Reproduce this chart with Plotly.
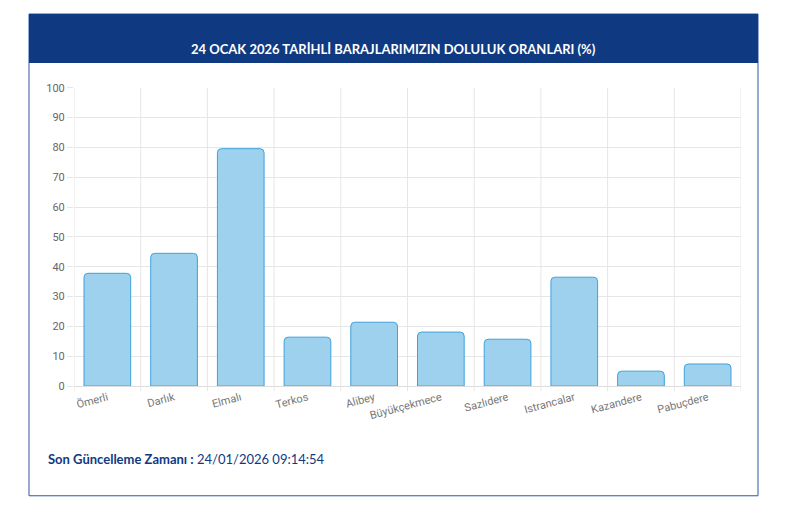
import plotly.graph_objects as go

W, H = 800, 510

barajlar = ["Ömerli", "Darlık", "Elmalı", "Terkos", "Alibey", "Büyükçekmece",
            "Sazlıdere", "Istrancalar", "Kazandere", "Pabuçdere"]
doluluk = [37.8, 44.5, 79.6, 16.4, 21.4, 18.1, 15.7, 36.5, 5.0, 7.4]
y_ticks = list(range(0, 101, 10))


# page offset correction (body margin in the viewer)
def px(x):
    return (x - 8) / W


def py(y):
    return 1 - ((y - 13) / 0.977) / H


fig = go.Figure(go.Bar(
    x=barajlar, y=doluluk, width=0.7,
    marker=dict(color="#9dd1ee", line=dict(color="#3fa2dc", width=1), cornerradius=4),
    hoverinfo="x+y",
))

# card + header
shapes = [
    dict(type="rect", xref="paper", yref="paper", x0=px(29), x1=px(758), y0=py(496), y1=py(13),
         line=dict(color="#2a56a8", width=1), fillcolor="white", layer="below"),
    dict(type="rect", xref="paper", yref="paper", x0=px(29), x1=px(758), y0=py(62), y1=py(13),
         line=dict(width=0), fillcolor="#0f3a82", layer="below"),
]
# vertical grid at category boundaries
for i in range(len(barajlar) + 1):
    shapes.append(dict(type="line", xref="x", yref="paper", x0=i - 0.5, x1=i - 0.5,
                       y0=py(391), y1=py(87), line=dict(color="#e6e6e6", width=1), layer="below"))

fig.update_layout(
    width=W, height=H,
    margin=dict(l=0, r=0, t=0, b=0),
    paper_bgcolor="white", plot_bgcolor="rgba(0,0,0,0)",
    font=dict(family="Roboto, sans-serif", color="#666666", size=11),
    showlegend=False,
    shapes=shapes,
    xaxis=dict(domain=[px(74), px(741)], range=[-0.5, 9.5], showgrid=False,
               tickangle=-15, ticks="", showline=True, linecolor="#dddddd",
               tickfont=dict(size=11, color="#777777")),
    yaxis=dict(domain=[py(386), py(87)], range=[0, 100], tickvals=y_ticks,
               gridcolor="#e6e6e6", zeroline=False, ticks="outside", ticklen=6,
               tickcolor="#e6e6e6", tickfont=dict(size=11, color="#666666")),
    annotations=[
        dict(text="<b>24 OCAK 2026 TARİHLİ BARAJLARIMIZIN DOLULUK ORANLARI (%)</b>",
             xref="paper", yref="paper", x=px(393), y=py(38), showarrow=False,
             font=dict(size=13, color="white", family="Lato, sans-serif")),
        dict(text="<b>Son Güncelleme Zamanı :</b> 24/01/2026 09:14:54",
             xref="paper", yref="paper", x=px(46), y=py(469), xanchor="left", showarrow=False,
             font=dict(size=13, color="#0f3a82", family="Lato, sans-serif")),
    ],
)

fig.write_html("out.html")
